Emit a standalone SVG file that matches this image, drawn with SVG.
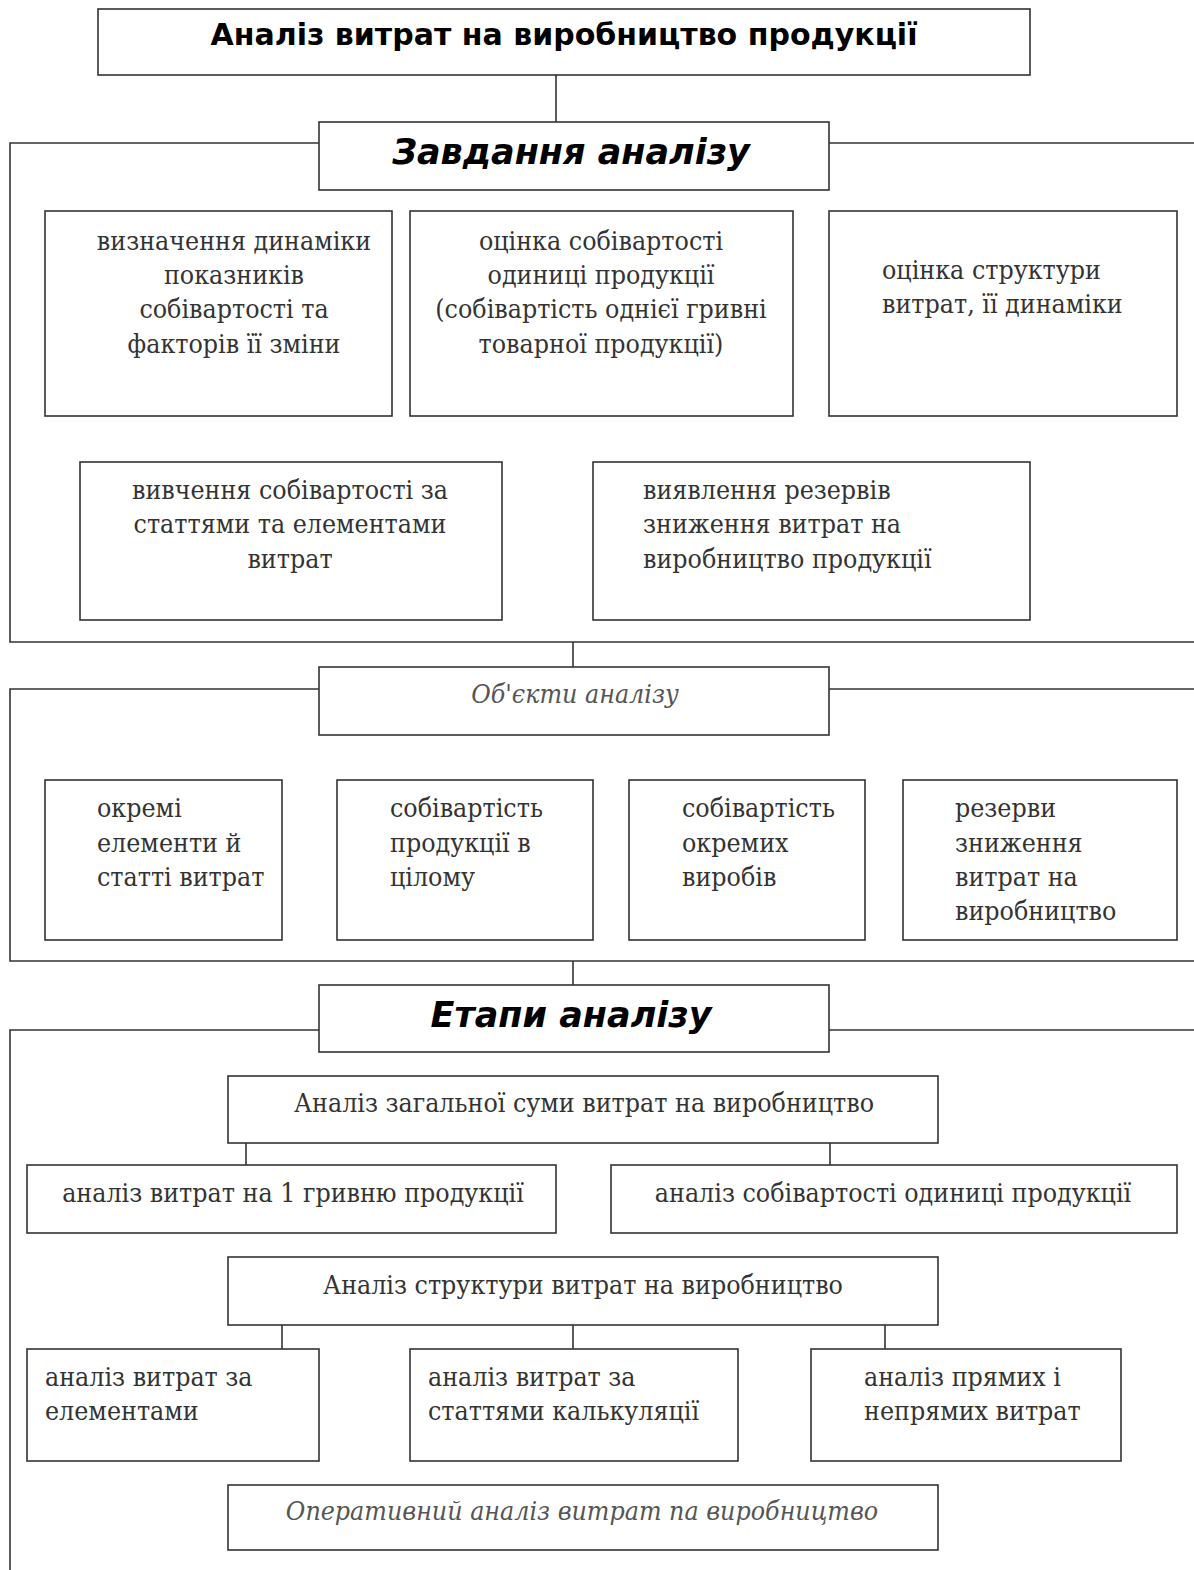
<svg xmlns="http://www.w3.org/2000/svg" width="1194" height="1570" viewBox="0 0 1194 1570">
<style>
.bx{fill:#fff;stroke:#333;stroke-width:1.6}
.ln{fill:none;stroke:#333;stroke-width:1.6}
.t{font-family:"DejaVu Serif","Liberation Serif",serif;font-stretch:condensed;font-size:26.5px;fill:#333}
.c{text-anchor:middle}
.h{font-family:"DejaVu Sans","Liberation Sans",sans-serif;font-weight:bold;fill:#000}
.it{font-family:"DejaVu Serif","Liberation Serif",serif;font-stretch:condensed;font-style:italic;font-size:26.5px;fill:#555;text-anchor:middle}
</style>
<rect width="1194" height="1570" fill="#fff"/>
<g id="connectors">
<line class="ln" x1="556" y1="75" x2="556" y2="122"/>
<polyline class="ln" points="319,143 10,143 10,642 1194,642"/>
<line class="ln" x1="829" y1="143" x2="1194" y2="143"/>
<line class="ln" x1="573" y1="642" x2="573" y2="667"/>
<polyline class="ln" points="319,689 10,689 10,961 1194,961"/>
<line class="ln" x1="829" y1="689" x2="1194" y2="689"/>
<line class="ln" x1="573" y1="961" x2="573" y2="985"/>
<polyline class="ln" points="319,1030 10,1030 10,1570"/>
<line class="ln" x1="829" y1="1030" x2="1194" y2="1030"/>
<line class="ln" x1="246" y1="1143" x2="246" y2="1165"/>
<line class="ln" x1="830" y1="1143" x2="830" y2="1165"/>
<line class="ln" x1="282" y1="1325" x2="282" y2="1349"/>
<line class="ln" x1="573" y1="1325" x2="573" y2="1349"/>
<line class="ln" x1="885" y1="1325" x2="885" y2="1349"/>
</g>
<g id="title">
<rect class="bx" x="98" y="9" width="932" height="66"/>
<text class="h c" x="564" y="45" font-size="30">Аналіз витрат на виробництво продукції</text>
</g>
<g id="tasks">
<rect class="bx" x="319" y="122" width="510" height="68"/>
<text class="h c" x="571" y="164" font-size="35" font-style="italic">Завдання аналізу</text>
</g>
<g id="task1">
<rect class="bx" x="45" y="211" width="347" height="205"/>
<text class="t c" x="234"><tspan x="234" y="250">визначення динаміки</tspan><tspan x="234" y="284">показників</tspan><tspan x="234" y="318">собівартості та</tspan><tspan x="234" y="353">факторів її зміни</tspan></text>
</g>
<g id="task2">
<rect class="bx" x="410" y="211" width="383" height="205"/>
<text class="t c" x="601"><tspan x="601" y="250">оцінка собівартості</tspan><tspan x="601" y="284">одиниці продукції</tspan><tspan x="601" y="318">(собівартість однієї гривні</tspan><tspan x="601" y="353">товарної продукції)</tspan></text>
</g>
<g id="task3">
<rect class="bx" x="829" y="211" width="348" height="205"/>
<text class="t" x="882"><tspan x="882" y="279">оцінка структури</tspan><tspan x="882" y="313">витрат, її динаміки</tspan></text>
</g>
<g id="task4">
<rect class="bx" x="80" y="462" width="422" height="158"/>
<text class="t c" x="290"><tspan x="290" y="499">вивчення собівартості за</tspan><tspan x="290" y="533">статтями та елементами</tspan><tspan x="290" y="568">витрат</tspan></text>
</g>
<g id="task5">
<rect class="bx" x="593" y="462" width="437" height="158"/>
<text class="t" x="643"><tspan x="643" y="499">виявлення резервів</tspan><tspan x="643" y="533">зниження витрат на</tspan><tspan x="643" y="568">виробництво продукції</tspan></text>
</g>
<g id="objects">
<rect class="bx" x="319" y="667" width="510" height="68"/>
<text class="it" x="575" y="703">Об'єкти аналізу</text>
</g>
<g id="obj1">
<rect class="bx" x="45" y="780" width="237" height="160"/>
<text class="t" x="97"><tspan x="97" y="817">окремі</tspan><tspan x="97" y="852">елементи й</tspan><tspan x="97" y="886">статті витрат</tspan></text>
</g>
<g id="obj2">
<rect class="bx" x="337" y="780" width="256" height="160"/>
<text class="t" x="390"><tspan x="390" y="817">собівартість</tspan><tspan x="390" y="852">продукції в</tspan><tspan x="390" y="886">цілому</tspan></text>
</g>
<g id="obj3">
<rect class="bx" x="629" y="780" width="236" height="160"/>
<text class="t" x="682"><tspan x="682" y="817">собівартість</tspan><tspan x="682" y="852">окремих</tspan><tspan x="682" y="886">виробів</tspan></text>
</g>
<g id="obj4">
<rect class="bx" x="903" y="780" width="274" height="160"/>
<text class="t" x="955"><tspan x="955" y="817">резерви</tspan><tspan x="955" y="852">зниження</tspan><tspan x="955" y="886">витрат на</tspan><tspan x="955" y="920">виробництво</tspan></text>
</g>
<g id="stages">
<rect class="bx" x="319" y="985" width="510" height="67"/>
<text class="h c" x="571" y="1027" font-size="35" font-style="italic">Етапи аналізу</text>
</g>
<g id="stage1">
<rect class="bx" x="228" y="1076" width="710" height="67"/>
<text class="t c" x="584" y="1112">Аналіз загальної суми витрат на виробництво</text>
</g>
<g id="stage1a">
<rect class="bx" x="27" y="1165" width="529" height="68"/>
<text class="t c" x="293" y="1202">аналіз витрат на 1 гривню продукції</text>
</g>
<g id="stage1b">
<rect class="bx" x="611" y="1165" width="566" height="68"/>
<text class="t c" x="893" y="1202">аналіз собівартості одиниці продукції</text>
</g>
<g id="stage2">
<rect class="bx" x="228" y="1257" width="710" height="68"/>
<text class="t c" x="583" y="1294">Аналіз структури витрат на виробництво</text>
</g>
<g id="stage2a">
<rect class="bx" x="27" y="1349" width="292" height="112"/>
<text class="t" x="45"><tspan x="45" y="1386">аналіз витрат за</tspan><tspan x="45" y="1420">елементами</tspan></text>
</g>
<g id="stage2b">
<rect class="bx" x="410" y="1349" width="328" height="112"/>
<text class="t" x="428"><tspan x="428" y="1386">аналіз витрат за</tspan><tspan x="428" y="1420">статтями калькуляції</tspan></text>
</g>
<g id="stage2c">
<rect class="bx" x="811" y="1349" width="310" height="112"/>
<text class="t" x="864"><tspan x="864" y="1386">аналіз прямих і</tspan><tspan x="864" y="1420">непрямих витрат</tspan></text>
</g>
<g id="stage3">
<rect class="bx" x="228" y="1485" width="710" height="65"/>
<text class="it" x="582" y="1520">Оперативний аналіз витрат па виробництво</text>
</g>
</svg>
